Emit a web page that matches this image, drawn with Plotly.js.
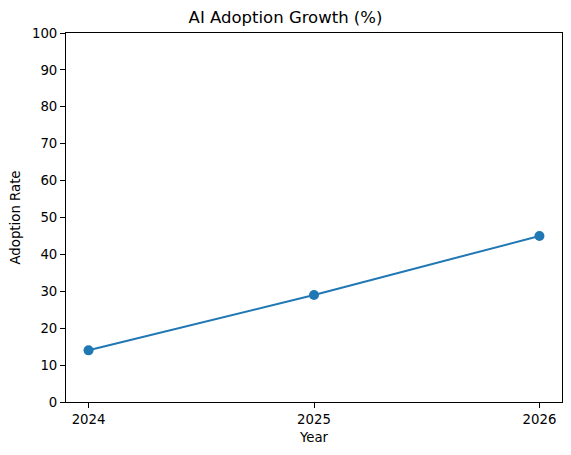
<!DOCTYPE html>
<html><head><meta charset="utf-8">
<script src="https://cdn.plot.ly/plotly-3.0.1.min.js"></script>
<style>html,body{margin:0;padding:0;background:#fff}#chart{width:571px;height:455px}</style>
</head><body><div id="chart"></div>
<script>
const years = [2024, 2025, 2026];
const adoption = [14, 29, 45];
const yTicks = [0,10,20,30,40,50,60,70,80,90,100];

const font = {family: 'DejaVu Sans', size: 13.3, color: '#000'};
Plotly.newPlot('chart', [{
  x: years, y: adoption, type: 'scatter', mode: 'lines+markers',
  line: {color: '#1f77b4', width: 2}, marker: {color: '#1f77b4', size: 10}
}], {
  width: 571, height: 455,
  margin: {l: 66, r: 9, t: 33, b: 53},
  paper_bgcolor: '#fff', plot_bgcolor: '#fff',
  font: font,
  showlegend: false,
  title: {text: 'AI Adoption Growth (%)', font: {family: 'DejaVu Sans', size: 16.5, color: '#000'}, x: 0.5, xanchor: 'center', y: 1 - 17/455, yanchor: 'middle'},
  xaxis: {
    range: [2023.9, 2026.1], tickvals: years, ticktext: years.map(String),
    showgrid: false, zeroline: false, showline: true, mirror: true, linecolor: '#000', linewidth: 1,
    ticks: 'outside', ticklen: 5, tickcolor: '#000', tickwidth: 1,
    title: {text: 'Year', font: font, standoff: 6}
  },
  yaxis: {
    range: [0, 100], tickvals: yTicks,
    showgrid: false, zeroline: false, showline: true, mirror: true, linecolor: '#000', linewidth: 1,
    ticks: 'outside', ticklen: 5, tickcolor: '#000', tickwidth: 1,
    title: {text: 'Adoption Rate', font: font, standoff: 8}
  }
}, {displayModeBar: false, staticPlot: true});
</script></body></html>
